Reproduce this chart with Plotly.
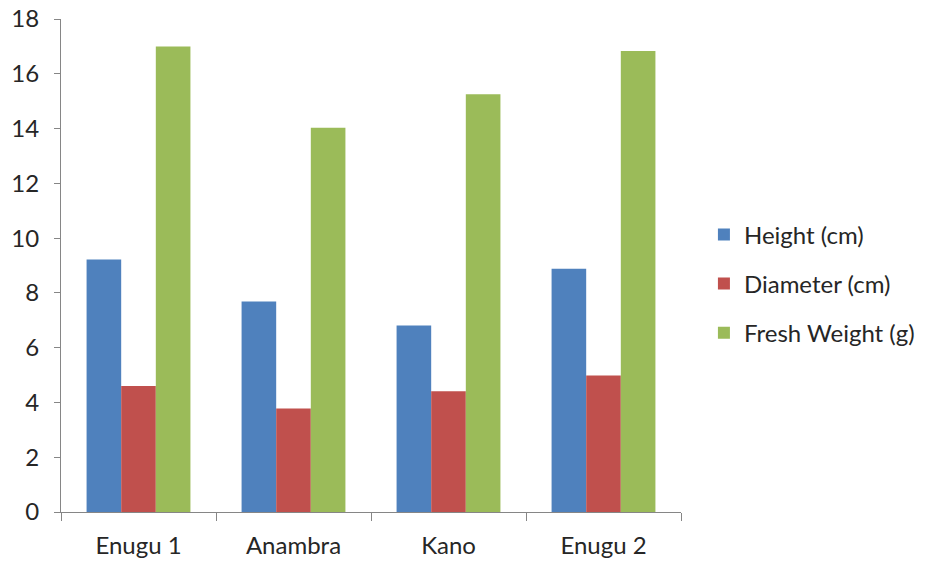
import plotly.graph_objects as go

sites = ["Enugu 1", "Anambra", "Kano", "Enugu 2"]
height_cm = [9.22, 7.69, 6.81, 8.88]
diameter_cm = [4.60, 3.78, 4.41, 4.98]
fresh_weight_g = [17.0, 14.03, 15.25, 16.83]

series = [
    ("Height (cm)", height_cm, "#4F81BD"),
    ("Diameter (cm)", diameter_cm, "#C0504D"),
    ("Fresh Weight (g)", fresh_weight_g, "#9BBB59"),
]

font_family = "Lato, 'Open Sans', sans-serif"

fig = go.Figure()
for i, (name, vals, color) in enumerate(series):
    fig.add_trace(go.Bar(
        x=sites, y=vals, name=name, legendgroup=f"g{i}",
        marker=dict(color=color, line=dict(width=0)),
    ))

fig.update_layout(
    width=925, height=562,
    margin=dict(l=61, r=244, t=19, b=50, autoexpand=False),
    paper_bgcolor="white", plot_bgcolor="white",
    barmode="group", bargap=0.33, bargroupgap=0,
    font=dict(family=font_family, size=24, color="#262626"),
    showlegend=True,
    legend=dict(
        xref="container", yref="container",
        x=0.761, xanchor="left", y=0.495, yanchor="middle",
        font=dict(size=24, color="#262626"),
        tracegroupgap=15, traceorder="grouped",
    ),
    xaxis=dict(
        showline=True, linecolor="#868686", linewidth=1,
        ticks="outside", tickson="boundaries", ticklen=8, tickcolor="#868686",
        showgrid=False, tickfont=dict(size=24), ticklabelstandoff=12,
        automargin=False,
    ),
    yaxis=dict(
        range=[0, 18], dtick=2, showline=True, linecolor="#868686", linewidth=1,
        ticks="outside", ticklen=6, tickcolor="#868686",
        showgrid=False, zeroline=False, tickfont=dict(size=24), ticklabelstandoff=10,
        automargin=False,
    ),
)

fig.write_html("out.html")
